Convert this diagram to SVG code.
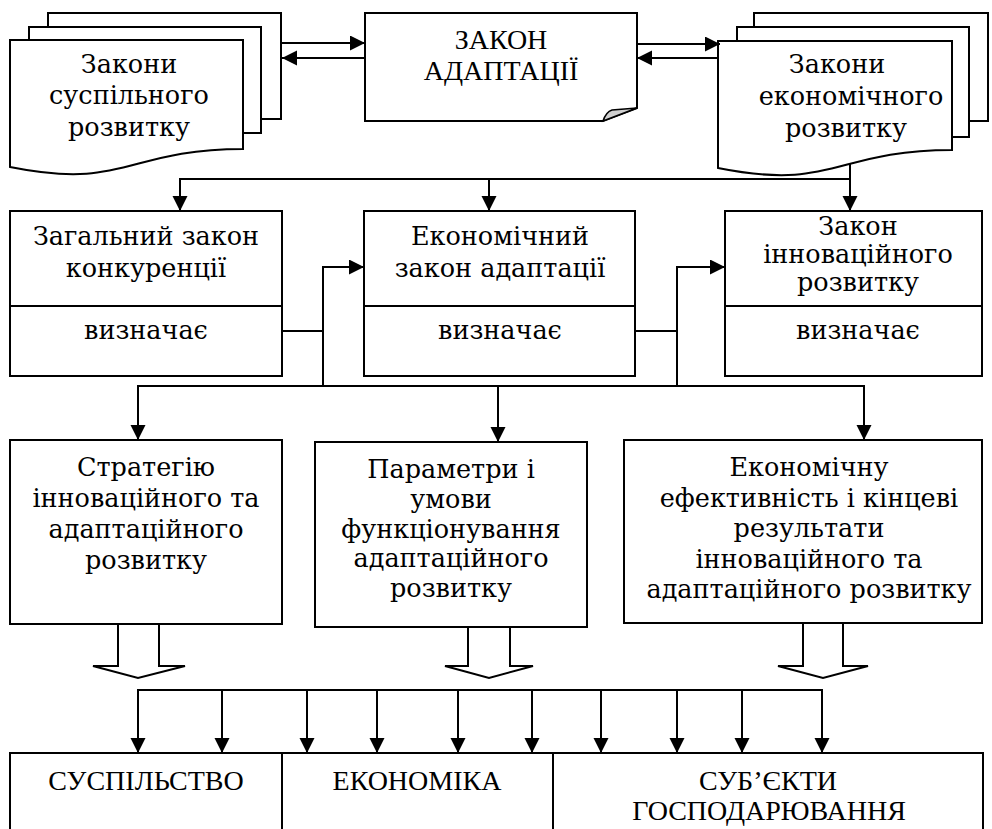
<svg xmlns="http://www.w3.org/2000/svg" width="992" height="829" viewBox="0 0 992 829">
<defs>
<style>
.box{fill:#fff;stroke:#000;stroke-width:2}
.ln{fill:none;stroke:#000;stroke-width:2}
.arr{fill:none;stroke:#000;stroke-width:2;marker-end:url(#ah)}
.t{font-family:'DejaVu Serif','Liberation Serif',serif;font-size:25.5px;text-anchor:middle;fill:#000}
.c{font-family:'Liberation Serif','Times New Roman',serif;font-size:28px;text-anchor:middle;fill:#000}
</style>
<marker id="ah" markerUnits="userSpaceOnUse" viewBox="0 0 16 16" markerWidth="16" markerHeight="16" refX="15" refY="7.5" orient="auto"><path d="M0,0 L15,7.5 L0,15 z" fill="#000"/></marker>
</defs>
<rect width="992" height="829" fill="#fff"/>

<g id="node-social-laws">
<rect class="box" x="48" y="13" width="233" height="106"/>
<rect class="box" x="29" y="27" width="232" height="106"/>
<path class="box" d="M10,40 L243,40 L243,149 C126.5,149 126.5,190.5 10,167 Z"/>
<text class="t" x="129" y="73">Закони</text>
<text class="t" x="129" y="104">суспільного</text>
<text class="t" x="129" y="136">розвитку</text>
</g>

<g id="node-adaptation-law">
<path class="box" d="M365,13 L637,13 L637,108 L603,121 L365,121 Z"/>
<path d="M603,121 Q606,112 612,110 L637,108 Z" fill="#d0d0d0" stroke="#000" stroke-width="1.5"/>
<text class="c" x="501" y="49">ЗАКОН</text>
<text class="c" x="501" y="80">АДАПТАЦІЇ</text>
</g>

<g id="node-economic-laws">
<rect class="box" x="754" y="13" width="234" height="108"/>
<rect class="box" x="737" y="27" width="232" height="110"/>
<path class="box" d="M718,41 L952,41 L952,150 C835,150 835,191.5 718,168 Z"/>
<text class="t" x="837" y="73">Закони</text>
<text class="t" x="851" y="105">економічного</text>
<text class="t" x="846" y="137">розвитку</text>
</g>

<g id="node-competition">
<rect class="box" x="10" y="211" width="272" height="165"/>
<line class="ln" x1="10" y1="306" x2="282" y2="306"/>
<text class="t" x="146" y="245">Загальний закон</text>
<text class="t" x="146" y="277">конкуренції</text>
<text class="t" x="146" y="339">визначає</text>
</g>

<g id="node-economic-adaptation">
<rect class="box" x="364" y="211" width="271" height="165"/>
<line class="ln" x1="364" y1="306" x2="635" y2="306"/>
<text class="t" x="500" y="245">Економічний</text>
<text class="t" x="500" y="277">закон адаптації</text>
<text class="t" x="500" y="339">визначає</text>
</g>

<g id="node-innovation">
<rect class="box" x="725" y="211" width="257" height="165"/>
<line class="ln" x1="725" y1="306" x2="982" y2="306"/>
<text class="t" x="858" y="235">Закон</text>
<text class="t" x="858" y="263">інноваційного</text>
<text class="t" x="858" y="291">розвитку</text>
<text class="t" x="858" y="339">визначає</text>
</g>

<g id="node-strategy">
<rect class="box" x="10" y="440" width="272" height="184"/>
<text class="t" x="146" y="476">Стратегію</text>
<text class="t" x="146" y="507">інноваційного та</text>
<text class="t" x="146" y="538">адаптаційного</text>
<text class="t" x="146" y="569">розвитку</text>
</g>

<g id="node-parameters">
<rect class="box" x="315" y="442" width="272" height="185"/>
<text class="t" x="451" y="478">Параметри і</text>
<text class="t" x="451" y="508">умови</text>
<text class="t" x="451" y="538">функціонування</text>
<text class="t" x="451" y="567">адаптаційного</text>
<text class="t" x="451" y="597">розвитку</text>
</g>

<g id="node-efficiency">
<rect class="box" x="624" y="440" width="358" height="183"/>
<text class="t" x="809" y="476">Економічну</text>
<text class="t" x="809" y="507">ефективність і кінцеві</text>
<text class="t" x="809" y="537">результати</text>
<text class="t" x="809" y="568">інноваційного та</text>
<text class="t" x="809" y="598">адаптаційного розвитку</text>
</g>

<g id="node-society">
<path class="ln" d="M10,840 L10,753 L282,753 L282,840"/>
<text class="c" x="146" y="790">СУСПІЛЬСТВО</text>
</g>
<g id="node-economy">
<path class="ln" d="M282,753 L553,753 L553,840"/>
<text class="c" x="417" y="790">ЕКОНОМІКА</text>
</g>
<g id="node-subjects">
<path class="ln" d="M553,753 L983,753 L983,840"/>
<text class="c" x="768" y="790">СУБ’ЄКТИ</text>
<text class="c" x="769" y="820">ГОСПОДАРЮВАННЯ</text>
</g>

<g id="connectors">
<line class="arr" x1="282" y1="43" x2="365" y2="43"/>
<line class="arr" x1="365" y1="58" x2="282" y2="58"/>
<line class="arr" x1="637" y1="44" x2="720" y2="44"/>
<line class="arr" x1="718" y1="58" x2="637" y2="58"/>

<line class="ln" x1="180" y1="179" x2="850" y2="179"/>
<line class="arr" x1="180" y1="178" x2="180" y2="211"/>
<line class="arr" x1="489" y1="179" x2="489" y2="211"/>
<line class="arr" x1="850" y1="164" x2="850" y2="211"/>

<line class="ln" x1="282" y1="331" x2="323" y2="331"/>
<polyline class="arr" points="323,386 323,267 364,267"/>
<line class="ln" x1="635" y1="331" x2="677" y2="331"/>
<polyline class="arr" points="677,386 677,267 725,267"/>

<line class="ln" x1="137" y1="386" x2="864" y2="386"/>
<line class="arr" x1="138" y1="385" x2="138" y2="440"/>
<line class="arr" x1="498" y1="386" x2="498" y2="442"/>
<line class="arr" x1="864" y1="385" x2="864" y2="440"/>

<polygon class="box" points="118,624 118,666 93,666 138,678 185,666 159,666 159,624"/>
<polygon class="box" points="468,627 468,666 445,666 489,678 533,666 510,666 510,627"/>
<polygon class="box" points="803,623 803,666 778,666 823,678 868,666 843,666 843,623"/>

<line class="ln" x1="137" y1="690" x2="822" y2="690"/>
<line class="arr" x1="138" y1="689" x2="138" y2="753"/>
<line class="arr" x1="222" y1="690" x2="222" y2="753"/>
<line class="arr" x1="307" y1="690" x2="307" y2="753"/>
<line class="arr" x1="377" y1="690" x2="377" y2="753"/>
<line class="arr" x1="458" y1="690" x2="458" y2="753"/>
<line class="arr" x1="532" y1="690" x2="532" y2="753"/>
<line class="arr" x1="601" y1="690" x2="601" y2="753"/>
<line class="arr" x1="677" y1="690" x2="677" y2="753"/>
<line class="arr" x1="742" y1="690" x2="742" y2="753"/>
<line class="arr" x1="822" y1="689" x2="822" y2="753"/>
</g>
</svg>
